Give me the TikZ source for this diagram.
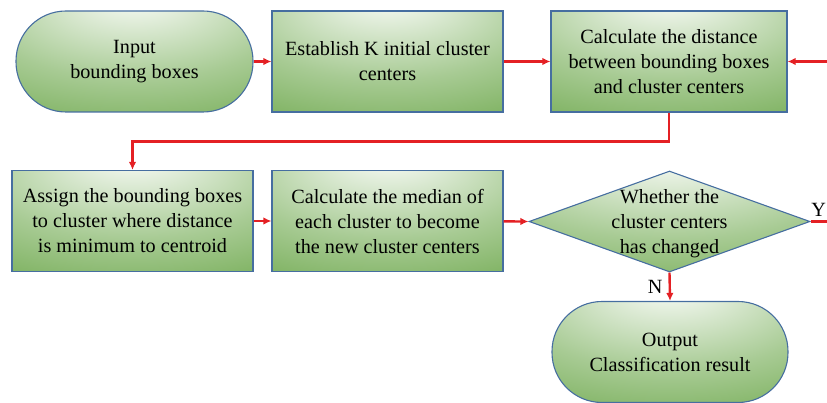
\documentclass[tikz,border=0pt]{standalone}
\usepackage{fontspec}
\setmainfont{Liberation Serif}
\usetikzlibrary{shapes.geometric,positioning,arrows.meta}
\definecolor{vert}{RGB}{96,160,60}
\definecolor{bord}{RGB}{70,110,160}
\definecolor{rouge}{RGB}{228,32,36}
\pgfdeclareradialshading{lueur}{\pgfpoint{0bp}{34bp}}{%
  color(0bp)=(white);color(8bp)=(white!85!vert);color(32bp)=(vert!55!white);
  color(65bp)=(vert);color(100bp)=(vert)}
\newcommand{\taille}{\fontsize{20.2}{25}\selectfont}

\begin{document}
\begin{tikzpicture}[x=1pt,y=1pt,
  etape/.style={draw=bord,line width=1.1pt,shading=lueur,rectangle,
    minimum width=231pt,minimum height=101pt,align=center,font=\taille},
  bout/.style={etape,rounded corners=50pt,minimum width=237pt},
  test/.style={draw=bord,line width=1.1pt,shading=lueur,diamond,inner sep=0pt,
    minimum width=281pt,minimum height=101pt},
  fleche/.style={color=rouge,line width=2.4pt,-{Latex[length=8pt,width=7.5pt]}},
  fil/.style={color=rouge,line width=2.4pt}]
\useasboundingbox (0,0) rectangle (827,-403);
% premiere ligne
\node[bout]  (a) at (134.5,-61.5) {Input\\bounding boxes};
\node[etape] (b) at (387.5,-61.5) {Establish K initial cluster\\centers};
\node[etape,minimum width=236pt] (c) at (669,-61.5) {Calculate the distance\\between bounding boxes\\and cluster centers};
% deuxieme ligne
\node[etape,minimum width=241pt] (e) at (132.5,-221) {Assign the bounding boxes\\to cluster where distance\\is minimum to centroid};
\node[etape] (f) at (387.5,-221) {Calculate the median of\\each cluster to become\\the new cluster centers};
\node[test]  (d) at (669.5,-221.5) {};
\node[align=center,font=\taille] (dt) at (669.5,-224) {Whether the\\cluster centers\\has changed};
% sortie
\node[bout,minimum width=236pt] (g) at (670,-352) {Output\\Classification result};
\coordinate (yout) at (827,-221.5);
\coordinate (yin) at (827,-61.5);
\draw[fleche] (a) -- (b);
\draw[fleche] (b) -- (c);
\draw[fleche] (c.south) -- ++(0,-29) -| (e.north);
\draw[fleche] (e) -- (f);
\draw[fleche] (f) -- (d.west);
\draw[fil] (d.east) -- (yout) node[midway,above,text=black,font=\taille] {Y};
\draw[fleche] (yin) -- (c.east);
\draw[fleche] (d.south) -- (g.north) node[midway,left,text=black,font=\taille,inner sep=6pt] {N};
\end{tikzpicture}
\end{document}
